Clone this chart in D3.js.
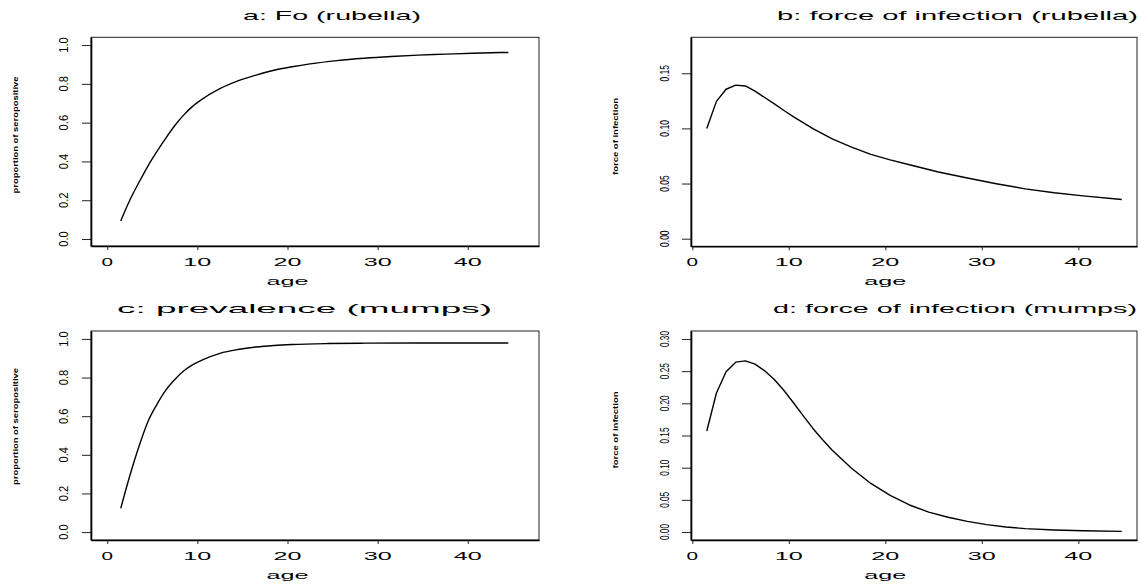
<!DOCTYPE html>
<html>
<head>
<meta charset="utf-8">
<script src="https://cdn.jsdelivr.net/npm/d3@7"></script>
<style>
  html, body { margin: 0; padding: 0; background: #fff; }
  svg text { font-family: "Liberation Sans", Arial, Helvetica, sans-serif; fill: #000; }
</style>
</head>
<body>
<svg id="chart" width="1141" height="584"></svg>
<script>
// ---- data: age grid and fitted curves ----
const agesRubellaFo = [1.5, 2.5, 3.5, 4.5, 5.5, 6.5, 7.5, 8.5, 9.5, 10.5, 12.5, 14.5, 16.5, 18.5, 20.5, 22.5, 25.5, 28.5, 31.5, 34.5, 37.5, 40.5, 44.5];
const rubellaFo    = [0.093, 0.20, 0.29, 0.375, 0.45, 0.52, 0.585, 0.64, 0.685, 0.72, 0.775, 0.815, 0.845, 0.87, 0.888, 0.903, 0.92, 0.932, 0.941, 0.948, 0.953, 0.958, 0.962];

const agesRubellaFoi = [1.5, 2.5, 3.5, 4.5, 5.5, 6.5, 7.5, 8.5, 9.5, 10.5, 12.5, 14.5, 16.5, 18.5, 20.5, 22.5, 25.5, 28.5, 31.5, 34.5, 37.5, 40.5, 44.5];
const rubellaFoi     = [0.100, 0.1245, 0.1355, 0.1392, 0.1385, 0.1338, 0.128, 0.1222, 0.1162, 0.1105, 0.0998, 0.0905, 0.083, 0.0765, 0.0715, 0.067, 0.0605, 0.055, 0.0498, 0.0452, 0.0416, 0.0388, 0.0355];

const agesMumpsPrev = [1.5, 2.5, 3.5, 4.5, 5.5, 6.5, 7.5, 8.5, 9.5, 10.5, 12.5, 14.5, 16.5, 18.5, 20.5, 24.5, 28.5, 34.5, 44.5];
const mumpsPrev     = [0.123, 0.29, 0.44, 0.57, 0.66, 0.735, 0.79, 0.835, 0.867, 0.89, 0.925, 0.945, 0.958, 0.966, 0.971, 0.976, 0.978, 0.979, 0.979];

const agesMumpsFoi = [1.5, 2.5, 3.5, 4.5, 5.5, 6.5, 7.5, 8.5, 9.5, 10.5, 11.5, 12.5, 13.5, 14.5, 16.5, 18.5, 20.5, 22.5, 24.5, 26.5, 28.5, 30.5, 32.5, 34.5, 37.5, 40.5, 44.5];
const mumpsFoi     = [0.157, 0.216, 0.249, 0.264, 0.266, 0.261, 0.2505, 0.237, 0.220, 0.2005, 0.1805, 0.161, 0.1435, 0.127, 0.099, 0.0755, 0.057, 0.042, 0.031, 0.023, 0.0165, 0.0115, 0.0078, 0.0053, 0.0032, 0.002, 0.001];

// ---- tick values ----
const ageTicks = [0, 10, 20, 30, 40];
const propTicks = [0, 0.2, 0.4, 0.6, 0.8, 1.0];
const foiRubellaTicks = [0, 0.05, 0.10, 0.15];
const foiMumpsTicks = [0, 0.05, 0.10, 0.15, 0.20, 0.25, 0.30];

// ---- panel layout ----
const panels = [
  { title: "a: Fo (rubella)", titleX: 243, titleW: 178, titleY: 19.5,
    ylab: "proportion of seropositive", ylabX: 15, ylabY: 135, ylabLen: 117,
    box: [91, 37.3, 539, 246], xdom: [-1.8, 47.9], ydom: [-0.036, 1.04],
    yTicks: propTicks, yFmt: ".1f", yLabX: 63, yLabLen: 15.5,
    ages: agesRubellaFo, vals: rubellaFo, curve: d3.curveMonotoneX },
  { title: "b: force of infection (rubella)", titleX: 777, titleW: 361, titleY: 19.5,
    ylab: "force of infection", ylabX: 615, ylabY: 136.5, ylabLen: 77,
    box: [691, 37.3, 1137, 246.3], xdom: [-0.135, 46.08], ydom: [-0.0069, 0.1826],
    yTicks: foiRubellaTicks, yFmt: ".2f", yLabX: 664, yLabLen: 16.5,
    ages: agesRubellaFoi, vals: rubellaFoi, curve: d3.curveLinear },
  { title: "c: prevalence (mumps)", titleX: 117, titleW: 375, titleY: 313,
    ylab: "proportion of seropositive", ylabX: 15, ylabY: 426.5, ylabLen: 117,
    box: [91, 331, 539, 540], xdom: [-1.8, 47.9], ydom: [-0.041, 1.041],
    yTicks: propTicks, yFmt: ".1f", yLabX: 63, yLabLen: 15.5,
    ages: agesMumpsPrev, vals: mumpsPrev, curve: d3.curveMonotoneX },
  { title: "d: force of infection (mumps)", titleX: 773, titleW: 364, titleY: 313,
    ylab: "force of infection", ylabX: 615, ylabY: 430, ylabLen: 77,
    box: [691, 331, 1137, 540], xdom: [-0.135, 46.08], ydom: [-0.0124, 0.3124],
    yTicks: foiMumpsTicks, yFmt: ".2f", yLabX: 664, yLabLen: 16,
    ages: agesMumpsFoi, vals: mumpsFoi, curve: d3.curveLinear }
];

const svg = d3.select("#chart");

panels.forEach(p => {
  const [L, T, R, B] = p.box;
  const x = d3.scaleLinear().domain(p.xdom).range([L, R]);
  const y = d3.scaleLinear().domain(p.ydom).range([B, T]);
  const g = svg.append("g");

  // frame
  g.append("rect")
    .attr("x", L).attr("y", T).attr("width", R - L).attr("height", B - T)
    .attr("fill", "none").attr("stroke", "#222").attr("stroke-width", 1);

  // y axis ticks
  const yAxis = g.append("g").attr("transform", `translate(${L},0)`)
    .call(d3.axisLeft(y).tickValues(p.yTicks).tickSize(9).tickSizeOuter(0).tickFormat(""));
  yAxis.select(".domain").attr("stroke", "#000").attr("stroke-width", 1.6);
  yAxis.selectAll(".tick line").attr("stroke", "#222").attr("stroke-width", 1);

  // y tick labels, rotated
  const fmt = d3.format(p.yFmt);
  g.selectAll(".ylab").data(p.yTicks).join("text")
    .attr("transform", d => `translate(${p.yLabX + 4.5},${y(d)}) rotate(-90)`)
    .attr("text-anchor", "middle")
    .attr("font-size", 12.5)
    .attr("textLength", p.yLabLen)
    .attr("lengthAdjust", "spacingAndGlyphs")
    .text(d => fmt(d));

  // x axis ticks
  const xAxis = g.append("g").attr("transform", `translate(0,${B})`)
    .call(d3.axisBottom(x).tickValues(ageTicks).tickSize(4).tickSizeOuter(0).tickFormat(""));
  xAxis.select(".domain").attr("stroke", "#000").attr("stroke-width", 1.6);
  xAxis.selectAll(".tick line").attr("stroke", "#222").attr("stroke-width", 1);

  // x tick labels, wide lettering
  g.selectAll(".xlab").data(ageTicks).join("text")
    .attr("x", d => x(d))
    .attr("y", B + 19.5)
    .attr("text-anchor", "middle")
    .attr("font-size", 10)
    .attr("textLength", d => String(d).length === 1 ? 11.5 : 28)
    .attr("lengthAdjust", "spacingAndGlyphs")
    .text(d => d);

  // x axis title
  g.append("text")
    .attr("x", (x(0) + x(40)) / 2)
    .attr("y", B + 38.5)
    .attr("text-anchor", "middle")
    .attr("font-size", 10.5)
    .attr("textLength", 42)
    .attr("lengthAdjust", "spacingAndGlyphs")
    .text("age");

  // y axis title
  g.append("text")
    .attr("transform", `translate(${p.ylabX + 2.5},${p.ylabY}) rotate(-90)`)
    .attr("text-anchor", "middle")
    .attr("font-size", 7)
    .attr("font-weight", "bold")
    .attr("textLength", p.ylabLen)
    .attr("lengthAdjust", "spacingAndGlyphs")
    .text(p.ylab);

  // panel title
  g.append("text")
    .attr("x", p.titleX)
    .attr("y", p.titleY)
    .attr("font-size", 13.5)
    .attr("textLength", p.titleW)
    .attr("lengthAdjust", "spacingAndGlyphs")
    .text(p.title);

  // fitted curve
  const pts = p.ages.map((a, i) => ({ age: a, v: p.vals[i] }));
  g.append("path")
    .datum(pts)
    .attr("fill", "none")
    .attr("stroke", "#000")
    .attr("stroke-width", 1.4)
    .attr("stroke-linejoin", "round")
    .attr("d", d3.line().curve(p.curve).x(d => x(d.age)).y(d => y(d.v)));
});
</script>
</body>
</html>
